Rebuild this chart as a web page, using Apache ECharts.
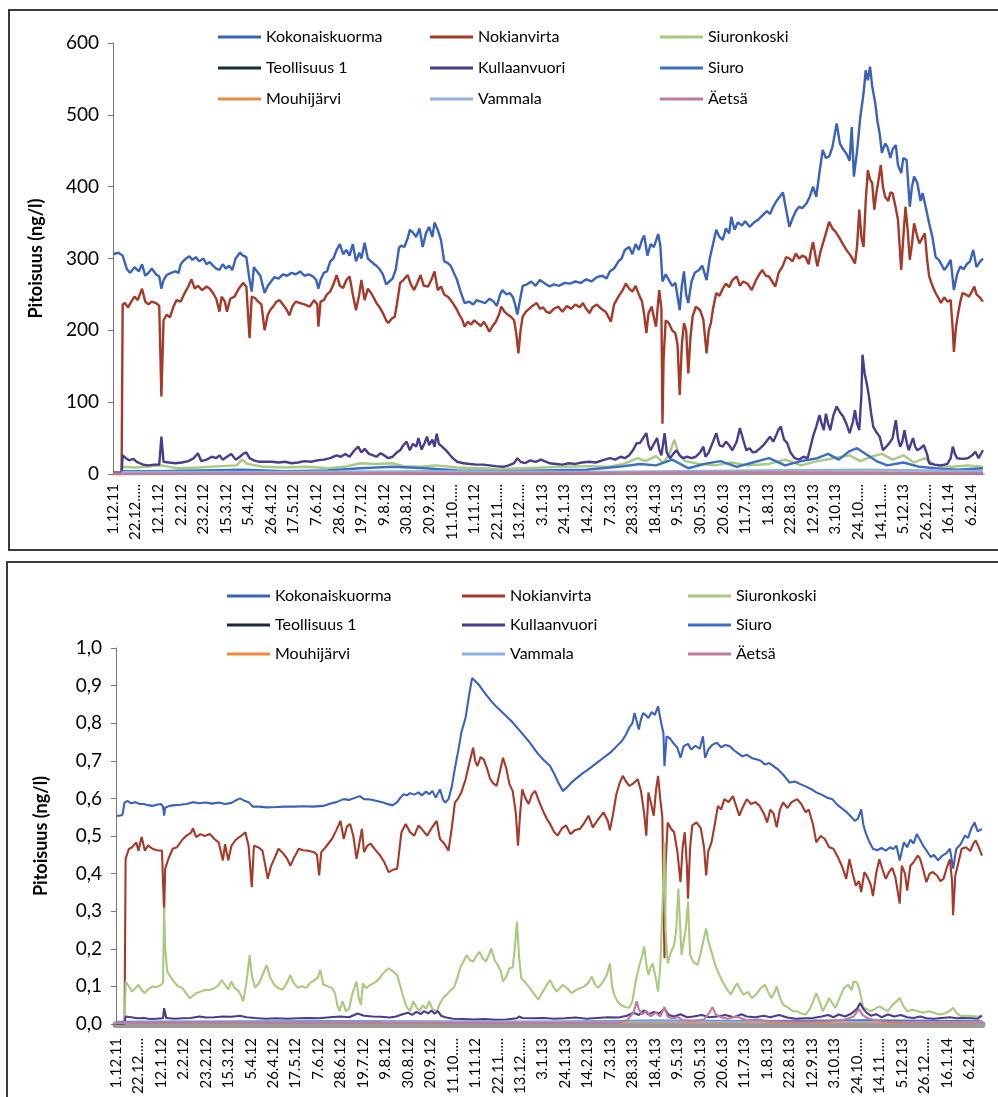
<!DOCTYPE html>
<html>
<head>
<meta charset="utf-8">
<script src="https://cdn.jsdelivr.net/npm/echarts@6/dist/echarts.min.js"></script>
<style>
  html, body { margin: 0; padding: 0; background: #fff; }
  #chart { width: 998px; height: 1097px; }
</style>
</head>
<body>
<div id="chart"></div>
<script>
// Day 0 = 1.12.2011; one tick label every 21 days.
const tickLabels = ['1.12.11','22.12.....','12.1.12','2.2.12','23.2.12','15.3.12','5.4.12','26.4.12','17.5.12','7.6.12',
  '28.6.12','19.7.12','9.8.12','30.8.12','20.9.12','11.10.....','1.11.12','22.11.....','13.12.....','3.1.13',
  '24.1.13','14.2.13','7.3.13','28.3.13','18.4.13','9.5.13','30.5.13','20.6.13','11.7.13','1.8.13',
  '22.8.13','12.9.13','3.10.13','24.10.....','14.11.....','5.12.13','26.12.....','16.1.14','6.2.14'];

const seriesNames = ['Kokonaiskuorma','Nokianvirta','Siuronkoski','Teollisuus 1','Kullaanvuori','Siuro','Mouhijärvi','Vammala','Äetsä'];

// ---- upper panel, ng/l : [day, value]
const kokonaisTop = [[0,306],[5,308],[9,304],[13,285],[16,280],[20,288],[24,282],[27,292],[30,276],[33,280],[36,286],[40,278],[43,275],[45,258],[47,270],[50,277],[54,280],[58,282],[61,280],[63,292],[65,296],[68,300],[71,303],[74,298],[77,302],[80,296],[84,300],[87,292],[90,295],[93,290],[96,286],[99,284],[102,292],[105,286],[108,290],[111,284],[114,300],[118,308],[121,304],[124,302],[127,270],[129,254],[131,288],[134,282],[137,276],[141,252],[144,262],[147,268],[150,274],[154,272],[158,278],[162,276],[166,280],[170,278],[174,282],[178,276],[182,278],[186,275],[189,270],[191,258],[193,270],[196,280],[199,282],[202,296],[205,300],[208,312],[211,320],[214,306],[217,312],[220,304],[223,320],[226,296],[229,308],[231,300],[234,322],[237,300],[240,296],[243,292],[245,290],[248,285],[251,278],[254,264],[257,268],[260,272],[263,285],[266,315],[268,318],[271,316],[274,328],[276,340],[279,336],[282,330],[285,342],[288,316],[291,335],[294,344],[297,330],[299,350],[302,340],[305,326],[308,296],[311,294],[314,290],[317,280],[320,270],[323,255],[327,238],[331,240],[335,236],[338,242],[342,240],[346,238],[350,244],[354,240],[357,234],[360,250],[362,256],[366,250],[369,252],[372,246],[374,236],[376,222],[378,238],[381,262],[385,264],[389,268],[393,262],[397,270],[401,266],[406,261],[410,264],[415,262],[420,266],[425,265],[430,268],[435,266],[440,271],[445,268],[450,274],[455,276],[459,272],[462,282],[466,286],[470,296],[473,300],[476,312],[480,316],[483,306],[486,320],[489,312],[492,326],[494,332],[497,304],[500,320],[503,316],[507,334],[509,318],[511,268],[514,278],[517,270],[520,262],[523,266],[527,228],[529,262],[531,282],[533,250],[535,238],[538,268],[541,280],[545,284],[548,290],[552,270],[555,300],[558,320],[561,340],[564,330],[567,326],[570,342],[573,335],[575,358],[578,340],[581,350],[585,346],[588,352],[592,344],[596,350],[600,354],[604,360],[608,366],[611,362],[614,372],[617,380],[620,386],[623,392],[626,368],[629,344],[632,356],[635,366],[638,372],[641,370],[645,377],[648,386],[651,400],[654,386],[657,420],[660,451],[663,440],[666,442],[669,455],[673,488],[676,460],[679,452],[682,446],[685,436],[687,483],[689,414],[692,450],[695,497],[698,530],[700,562],[702,548],[704,567],[706,540],[709,515],[711,490],[713,474],[715,447],[718,460],[720,456],[723,440],[725,452],[728,458],[730,430],[733,419],[735,440],[738,437],[741,372],[743,400],[745,414],[748,405],[751,380],[753,391],[756,370],[759,349],[762,330],[765,302],[768,298],[771,290],[773,284],[776,290],[779,298],[782,256],[785,278],[788,289],[791,285],[794,292],[797,296],[800,312],[803,288],[806,295],[809,300]];

const nokiaTop = [[0,2],[8,2],[9,236],[11,238],[14,232],[17,240],[20,247],[23,242],[27,258],[30,240],[33,236],[36,240],[40,238],[43,234],[45,108],[47,214],[50,222],[53,218],[56,232],[59,242],[63,240],[66,250],[70,261],[73,271],[76,258],[79,262],[83,256],[87,261],[90,258],[93,252],[96,244],[99,226],[101,247],[104,240],[106,226],[109,244],[113,247],[117,258],[121,266],[124,261],[127,189],[129,247],[132,245],[135,240],[138,236],[141,200],[144,222],[147,230],[149,233],[152,240],[155,242],[158,236],[161,230],[164,221],[167,234],[170,240],[174,238],[178,236],[183,233],[187,242],[190,236],[191,205],[193,240],[196,242],[199,250],[202,254],[205,264],[208,277],[211,262],[214,259],[217,270],[220,275],[223,250],[226,228],[229,250],[231,270],[234,242],[237,258],[240,252],[243,244],[245,238],[248,232],[251,224],[254,214],[256,210],[259,216],[262,219],[264,236],[267,266],[270,270],[274,277],[277,264],[280,256],[283,266],[286,277],[289,262],[293,261],[296,270],[299,282],[302,256],[305,261],[308,250],[312,246],[316,238],[319,231],[322,222],[325,214],[327,205],[330,212],[333,208],[336,214],[339,210],[342,206],[345,212],[348,204],[350,198],[353,206],[356,212],[359,222],[361,233],[364,226],[367,222],[370,219],[373,214],[375,196],[377,168],[379,200],[381,219],[384,226],[387,230],[390,234],[394,238],[397,230],[400,232],[403,226],[406,224],[410,230],[414,233],[418,226],[422,234],[426,230],[430,236],[434,232],[437,238],[440,230],[443,224],[446,232],[450,236],[454,230],[458,226],[461,218],[463,212],[466,236],[470,247],[474,256],[477,265],[480,258],[483,254],[486,262],[489,250],[492,240],[494,222],[496,196],[498,224],[501,233],[503,218],[505,205],[507,240],[508,256],[510,230],[511,70],[512,160],[514,214],[517,210],[520,200],[523,196],[525,180],[527,110],[529,180],[531,210],[533,200],[535,140],[537,190],[539,219],[542,233],[546,228],[549,215],[552,168],[554,200],[556,210],[558,230],[561,252],[564,248],[567,258],[570,265],[573,260],[576,270],[580,275],[583,262],[586,268],[590,265],[594,256],[598,270],[601,278],[604,284],[607,276],[610,275],[613,268],[616,261],[619,280],[623,290],[626,302],[629,300],[632,296],[635,307],[638,300],[641,304],[644,302],[647,292],[649,310],[651,323],[653,306],[655,289],[658,310],[662,330],[666,351],[669,342],[672,337],[675,330],[678,322],[682,312],[686,304],[690,293],[692,318],[694,368],[696,330],[698,316],[700,380],[702,423],[704,410],[706,405],[708,368],[710,392],[712,410],[714,430],[716,400],[718,386],[721,380],[723,392],[725,391],[728,370],[730,354],[733,284],[735,330],[737,372],[739,340],[741,298],[743,320],[745,349],[748,330],[750,321],[753,330],[755,335],[757,300],[759,275],[762,262],[765,252],[768,244],[770,238],[773,246],[776,240],[779,242],[781,200],[782,170],[784,205],[786,224],[788,240],[790,252],[793,250],[796,247],[799,255],[801,261],[803,250],[806,246],[809,240]];

const siuronkoskiTop = [[0,0],[8,0],[9,10],[20,9],[30,10],[45,12],[60,8],[80,9],[100,11],[115,12],[120,20],[125,14],[140,10],[160,9],[180,10],[200,8],[215,10],[230,15],[245,14],[260,15],[270,11],[285,10],[300,12],[320,9],[340,8],[360,7],[380,8],[400,9],[420,10],[440,11],[460,10],[475,14],[488,22],[495,18],[505,25],[512,15],[518,30],[522,48],[526,28],[532,18],[545,14],[560,12],[575,16],[590,12],[610,14],[625,20],[640,12],[655,18],[670,22],[685,26],[695,18],[705,24],[715,28],[725,20],[735,26],[745,16],[755,22],[765,12],[780,10],[795,12],[809,10]];

const teollisuusTop = [[0,0],[8,0],[9,1],[200,1],[400,1],[600,1.5],[809,1]];

const kullaanvuoriTop = [[0,1],[8,1],[9,26],[12,22],[15,19],[19,21],[22,17],[25,15],[28,13],[33,12],[38,13],[43,13],[45,52],[47,17],[52,16],[58,15],[64,16],[70,18],[75,22],[79,29],[82,18],[87,20],[92,24],[96,22],[99,26],[102,20],[106,24],[110,28],[114,20],[118,24],[121,28],[124,30],[127,22],[131,19],[136,17],[142,17],[148,17],[154,16],[160,17],[166,15],[172,16],[178,18],[184,17],[190,19],[196,20],[202,22],[208,26],[212,24],[216,28],[220,24],[224,32],[228,38],[231,30],[234,35],[238,28],[242,26],[245,24],[249,29],[252,26],[256,22],[260,24],[264,30],[267,33],[270,40],[273,45],[276,33],[279,42],[282,38],[284,50],[287,34],[290,44],[292,52],[294,40],[297,48],[299,38],[301,56],[303,42],[306,38],[309,34],[312,29],[316,22],[320,17],[326,15],[332,14],[338,13],[344,13],[350,12],[356,11],[363,10],[368,12],[373,15],[376,22],[379,17],[383,15],[388,19],[393,17],[398,20],[403,17],[406,15],[412,14],[418,13],[424,15],[430,14],[436,16],[443,17],[449,16],[455,19],[462,22],[467,20],[472,24],[476,22],[480,26],[484,34],[487,43],[490,43],[493,50],[496,57],[498,40],[500,33],[503,42],[506,50],[508,34],[510,26],[513,57],[515,30],[518,22],[521,28],[524,33],[527,26],[530,22],[534,24],[538,22],[542,24],[546,30],[549,38],[551,24],[554,30],[558,45],[561,57],[564,40],[567,38],[570,45],[573,40],[576,33],[580,45],[583,64],[586,48],[589,33],[592,36],[595,30],[598,31],[602,36],[606,42],[609,48],[611,52],[614,45],[617,55],[619,62],[621,66],[624,48],[627,43],[630,30],[634,22],[638,20],[642,24],[646,22],[649,40],[651,52],[654,66],[657,82],[659,70],[661,61],[663,84],[665,70],[667,61],[670,82],[673,94],[676,86],[679,80],[682,70],[685,57],[688,72],[690,89],[692,70],[694,61],[696,110],[697,166],[699,140],[701,126],[703,108],[705,85],[707,66],[710,58],[713,52],[716,33],[719,38],[722,43],[725,50],[728,75],[730,50],[732,38],[734,45],[736,61],[738,45],[740,33],[742,42],[744,50],[746,38],[748,33],[751,36],[754,40],[757,28],[759,15],[764,13],[770,12],[776,14],[779,22],[781,38],[783,28],[785,22],[790,21],[795,22],[799,26],[802,31],[805,22],[809,33]];

const siuroTop = [[0,0],[8,0],[9,4],[40,4],[80,5],[120,6],[160,4],[200,5],[230,8],[260,10],[290,8],[320,5],[360,4],[400,5],[440,6],[470,10],[490,14],[505,12],[520,20],[535,8],[550,14],[565,18],[580,10],[595,16],[610,22],[625,12],[640,18],[655,22],[665,28],[675,20],[685,32],[692,36],[700,28],[710,18],[720,12],[735,16],[750,10],[765,8],[785,6],[809,8]];

const mouhijarviTop = [[0,0],[8,0],[9,1.5],[300,1.5],[500,2],[809,1.5]];
const vammalaTop = [[0,0],[8,0],[9,3],[150,3],[300,4],[450,3],[600,5],[700,6],[809,4]];
const aetsaTop = [[0,0],[8,0],[9,1],[400,1],[600,2],[809,1]];

// ---- lower panel, ng/l : [day, value]
const kokonaisBot = [[0,0.554],[3,0.554],[6,0.556],[8,0.589],[11,0.593],[14,0.587],[18,0.590],[22,0.585],[26,0.585],[30,0.582],[34,0.580],[38,0.583],[42,0.585],[44,0.578],[45,0.554],[46,0.575],[50,0.580],[55,0.582],[60,0.583],[66,0.585],[72,0.590],[78,0.587],[84,0.589],[90,0.586],[96,0.589],[102,0.585],[108,0.588],[113,0.596],[116,0.600],[120,0.594],[124,0.590],[128,0.578],[134,0.578],[141,0.576],[150,0.577],[158,0.578],[166,0.578],[175,0.579],[184,0.578],[194,0.580],[200,0.586],[206,0.590],[213,0.598],[218,0.596],[224,0.602],[228,0.606],[232,0.598],[238,0.597],[244,0.593],[250,0.589],[255,0.584],[259,0.582],[263,0.590],[266,0.602],[269,0.611],[272,0.608],[275,0.614],[279,0.610],[283,0.616],[286,0.608],[290,0.618],[293,0.611],[296,0.620],[299,0.602],[303,0.624],[306,0.596],[308,0.589],[311,0.598],[314,0.630],[317,0.680],[320,0.725],[323,0.775],[327,0.815],[330,0.870],[333,0.920],[336,0.912],[340,0.900],[345,0.880],[350,0.862],[355,0.846],[362,0.827],[370,0.805],[378,0.779],[386,0.752],[394,0.721],[400,0.702],[406,0.686],[410,0.665],[414,0.640],[418,0.620],[422,0.630],[426,0.642],[430,0.652],[437,0.668],[444,0.682],[450,0.695],[456,0.708],[462,0.721],[467,0.735],[473,0.752],[477,0.770],[480,0.788],[483,0.800],[485,0.827],[487,0.806],[489,0.783],[491,0.810],[493,0.827],[496,0.820],[498,0.814],[501,0.830],[504,0.822],[507,0.845],[510,0.800],[512,0.774],[513,0.686],[515,0.765],[518,0.760],[521,0.748],[525,0.735],[528,0.708],[531,0.739],[535,0.745],[538,0.730],[542,0.740],[546,0.732],[549,0.765],[551,0.708],[554,0.730],[558,0.743],[562,0.748],[566,0.736],[570,0.742],[574,0.739],[578,0.728],[582,0.720],[586,0.712],[590,0.716],[595,0.707],[599,0.704],[603,0.700],[607,0.690],[611,0.694],[615,0.686],[620,0.675],[625,0.660],[630,0.642],[635,0.645],[640,0.638],[645,0.632],[650,0.625],[655,0.616],[660,0.610],[665,0.602],[670,0.598],[675,0.582],[680,0.571],[684,0.562],[688,0.550],[691,0.540],[694,0.546],[697,0.571],[699,0.530],[701,0.510],[704,0.488],[708,0.466],[712,0.462],[716,0.468],[720,0.461],[724,0.470],[727,0.465],[730,0.474],[733,0.435],[735,0.460],[737,0.483],[740,0.470],[743,0.490],[746,0.480],[749,0.505],[752,0.490],[755,0.474],[758,0.462],[762,0.444],[765,0.450],[769,0.435],[773,0.448],[777,0.455],[780,0.466],[783,0.413],[786,0.466],[790,0.478],[794,0.501],[797,0.495],[800,0.520],[803,0.536],[806,0.512],[810,0.519]];

const nokiaBot = [[0,0.005],[8,0.005],[9,0.44],[12,0.465],[15,0.47],[19,0.483],[21,0.461],[24,0.497],[27,0.461],[30,0.475],[34,0.466],[38,0.462],[43,0.461],[45,0.298],[46,0.413],[49,0.439],[53,0.466],[57,0.47],[62,0.49],[66,0.501],[70,0.508],[72,0.520],[75,0.497],[79,0.505],[83,0.500],[88,0.505],[92,0.492],[96,0.483],[100,0.435],[102,0.478],[105,0.435],[108,0.474],[112,0.49],[117,0.500],[121,0.510],[124,0.474],[127,0.364],[129,0.474],[133,0.470],[137,0.461],[142,0.386],[145,0.420],[148,0.439],[152,0.466],[156,0.455],[160,0.440],[163,0.421],[167,0.445],[171,0.466],[175,0.462],[180,0.461],[185,0.457],[188,0.450],[190,0.395],[192,0.457],[196,0.470],[202,0.492],[206,0.515],[210,0.540],[213,0.492],[216,0.525],[219,0.532],[222,0.500],[225,0.439],[227,0.470],[230,0.519],[232,0.457],[235,0.474],[238,0.480],[242,0.465],[247,0.448],[251,0.430],[255,0.404],[259,0.410],[263,0.413],[267,0.510],[271,0.532],[275,0.510],[279,0.501],[283,0.528],[287,0.515],[291,0.501],[295,0.520],[300,0.540],[303,0.492],[307,0.480],[311,0.461],[314,0.520],[317,0.589],[320,0.600],[323,0.616],[327,0.651],[331,0.700],[334,0.735],[336,0.700],[338,0.686],[341,0.710],[344,0.704],[347,0.680],[350,0.651],[353,0.640],[356,0.633],[359,0.670],[362,0.708],[365,0.680],[368,0.638],[371,0.620],[374,0.560],[376,0.474],[378,0.560],[380,0.624],[383,0.600],[386,0.585],[389,0.610],[392,0.620],[396,0.590],[400,0.563],[403,0.545],[406,0.532],[410,0.510],[413,0.501],[417,0.520],[421,0.528],[425,0.505],[429,0.515],[434,0.519],[438,0.535],[442,0.554],[446,0.523],[450,0.540],[456,0.563],[460,0.540],[462,0.515],[465,0.560],[468,0.611],[471,0.640],[474,0.660],[477,0.645],[480,0.633],[484,0.640],[488,0.651],[491,0.620],[494,0.560],[496,0.501],[498,0.616],[501,0.580],[503,0.554],[505,0.620],[507,0.660],[509,0.600],[511,0.550],[512,0.350],[513,0.175],[514,0.420],[516,0.536],[519,0.520],[522,0.510],[525,0.460],[528,0.377],[530,0.470],[532,0.510],[534,0.420],[535,0.333],[537,0.470],[539,0.528],[543,0.536],[547,0.520],[550,0.470],[552,0.395],[554,0.460],[557,0.483],[560,0.530],[563,0.580],[566,0.570],[569,0.598],[573,0.590],[577,0.606],[580,0.580],[583,0.554],[586,0.575],[590,0.598],[594,0.585],[598,0.590],[602,0.580],[606,0.560],[609,0.536],[612,0.570],[615,0.560],[618,0.523],[621,0.570],[624,0.589],[628,0.575],[632,0.590],[637,0.598],[641,0.585],[645,0.563],[648,0.570],[652,0.530],[655,0.483],[659,0.500],[663,0.492],[667,0.470],[671,0.466],[675,0.445],[679,0.420],[683,0.386],[686,0.438],[689,0.400],[692,0.368],[695,0.380],[697,0.351],[700,0.404],[703,0.390],[706,0.370],[708,0.340],[711,0.400],[714,0.438],[717,0.410],[720,0.386],[723,0.404],[726,0.415],[729,0.390],[733,0.320],[735,0.421],[738,0.400],[740,0.355],[743,0.421],[746,0.430],[750,0.448],[752,0.440],[755,0.410],[758,0.377],[761,0.400],[764,0.404],[768,0.395],[771,0.380],[774,0.386],[777,0.415],[780,0.438],[782,0.380],[783,0.289],[785,0.395],[788,0.430],[791,0.466],[795,0.470],[799,0.460],[802,0.480],[804,0.488],[807,0.470],[810,0.448]];

const siuronkoskiBot = [[0,0],[8,0],[9,0.113],[12,0.100],[15,0.086],[18,0.095],[21,0.104],[24,0.090],[27,0.082],[30,0.092],[34,0.100],[38,0.098],[42,0.104],[44,0.110],[45,0.310],[46,0.200],[48,0.139],[51,0.125],[54,0.113],[58,0.100],[62,0.096],[66,0.080],[69,0.069],[72,0.075],[75,0.082],[79,0.086],[84,0.091],[88,0.090],[92,0.095],[96,0.104],[99,0.117],[102,0.104],[105,0.092],[108,0.113],[111,0.095],[114,0.090],[117,0.075],[119,0.060],[122,0.110],[125,0.183],[127,0.130],[130,0.096],[134,0.110],[137,0.130],[141,0.157],[144,0.125],[148,0.104],[152,0.095],[156,0.091],[160,0.110],[163,0.130],[166,0.110],[170,0.096],[174,0.100],[178,0.096],[182,0.110],[186,0.117],[189,0.125],[191,0.144],[194,0.104],[198,0.100],[202,0.096],[205,0.080],[207,0.050],[209,0.034],[212,0.060],[215,0.034],[218,0.040],[221,0.080],[225,0.113],[227,0.070],[229,0.051],[231,0.108],[234,0.095],[238,0.104],[242,0.110],[246,0.120],[250,0.135],[255,0.148],[259,0.140],[263,0.130],[266,0.100],[269,0.069],[272,0.045],[275,0.034],[278,0.060],[281,0.045],[284,0.034],[287,0.050],[290,0.040],[293,0.060],[296,0.040],[300,0.034],[303,0.055],[306,0.069],[310,0.080],[313,0.090],[316,0.096],[319,0.120],[322,0.150],[325,0.166],[328,0.183],[331,0.170],[334,0.166],[337,0.180],[340,0.192],[343,0.175],[346,0.166],[349,0.185],[351,0.201],[354,0.170],[357,0.157],[360,0.140],[362,0.113],[365,0.125],[368,0.148],[371,0.150],[373,0.200],[375,0.272],[377,0.180],[379,0.122],[383,0.110],[387,0.096],[391,0.080],[395,0.065],[399,0.085],[403,0.104],[406,0.117],[409,0.100],[412,0.086],[415,0.095],[418,0.104],[422,0.095],[426,0.082],[430,0.090],[434,0.095],[438,0.100],[442,0.110],[445,0.126],[448,0.105],[451,0.096],[455,0.110],[459,0.130],[462,0.161],[464,0.100],[466,0.078],[469,0.060],[472,0.051],[476,0.045],[480,0.043],[483,0.060],[486,0.113],[489,0.150],[492,0.180],[494,0.206],[496,0.160],[498,0.130],[500,0.150],[502,0.161],[505,0.120],[507,0.086],[509,0.150],[511,0.300],[513,0.483],[514,0.250],[516,0.161],[519,0.190],[522,0.210],[524,0.250],[526,0.360],[528,0.240],[529,0.183],[531,0.220],[533,0.254],[535,0.325],[537,0.183],[540,0.165],[544,0.157],[547,0.190],[550,0.230],[552,0.254],[554,0.220],[557,0.192],[560,0.160],[563,0.139],[566,0.120],[569,0.104],[572,0.090],[575,0.078],[578,0.095],[581,0.108],[584,0.090],[587,0.078],[591,0.085],[595,0.069],[599,0.080],[603,0.095],[607,0.104],[610,0.085],[613,0.069],[616,0.085],[618,0.100],[621,0.070],[624,0.051],[628,0.045],[633,0.034],[637,0.034],[641,0.028],[645,0.025],[649,0.040],[652,0.060],[655,0.082],[658,0.060],[661,0.034],[664,0.050],[667,0.069],[670,0.055],[673,0.043],[677,0.070],[681,0.096],[685,0.104],[688,0.090],[690,0.113],[693,0.110],[695,0.096],[697,0.070],[699,0.043],[702,0.040],[706,0.034],[710,0.040],[714,0.047],[718,0.040],[722,0.034],[726,0.050],[730,0.060],[733,0.069],[736,0.050],[740,0.034],[745,0.038],[750,0.034],[755,0.030],[760,0.034],[765,0.030],[770,0.025],[775,0.028],[780,0.035],[783,0.043],[786,0.030],[790,0.021],[795,0.022],[800,0.021],[805,0.020],[810,0.021]];

const teollisuusBot = [[0,0.003],[100,0.004],[200,0.003],[300,0.004],[400,0.003],[480,0.006],[520,0.008],[560,0.005],[620,0.006],[700,0.005],[810,0.003]];

const kullaanvuoriBot = [[0,0],[8,0],[9,0.02],[14,0.018],[20,0.015],[26,0.016],[32,0.013],[38,0.014],[44,0.015],[45,0.042],[47,0.016],[55,0.014],[62,0.015],[70,0.016],[78,0.020],[84,0.017],[92,0.018],[100,0.020],[108,0.019],[116,0.022],[122,0.018],[130,0.016],[140,0.014],[150,0.015],[160,0.014],[170,0.015],[180,0.016],[190,0.015],[200,0.018],[210,0.020],[218,0.018],[226,0.028],[232,0.022],[240,0.020],[248,0.019],[256,0.017],[262,0.020],[268,0.026],[273,0.030],[277,0.024],[281,0.032],[285,0.026],[288,0.034],[292,0.028],[295,0.036],[298,0.027],[301,0.034],[304,0.022],[308,0.018],[315,0.014],[325,0.013],[335,0.012],[345,0.013],[355,0.011],[365,0.012],[375,0.015],[377,0.020],[380,0.016],[390,0.015],[400,0.016],[410,0.014],[420,0.015],[430,0.017],[440,0.014],[450,0.016],[460,0.018],[470,0.017],[478,0.022],[484,0.030],[489,0.024],[494,0.036],[498,0.025],[503,0.032],[508,0.028],[513,0.040],[517,0.024],[522,0.020],[528,0.026],[534,0.018],[540,0.020],[548,0.024],[555,0.018],[562,0.020],[570,0.024],[578,0.018],[585,0.026],[590,0.020],[598,0.018],[606,0.022],[612,0.018],[620,0.024],[628,0.017],[636,0.014],[644,0.015],[652,0.016],[660,0.020],[666,0.024],[671,0.018],[676,0.025],[682,0.020],[688,0.028],[693,0.040],[696,0.056],[699,0.040],[702,0.030],[706,0.022],[711,0.026],[716,0.018],[722,0.025],[728,0.020],[734,0.024],[740,0.018],[746,0.016],[752,0.020],[758,0.015],[765,0.014],[772,0.016],[780,0.018],[786,0.015],[792,0.016],[800,0.015],[806,0.014],[810,0.022]];

const siuroBot = [[0,0.006],[200,0.007],[400,0.006],[500,0.009],[600,0.008],[700,0.010],[810,0.007]];
const mouhijarviBot = [[0,0.002],[300,0.002],[500,0.004],[700,0.003],[810,0.002]];
const vammalaBot = [[0,0.004],[250,0.005],[500,0.007],[650,0.006],[810,0.005]];
const aetsaBot = [[0,0.003],[470,0.003],[478,0.010],[484,0.030],[487,0.060],[489,0.040],[492,0.025],[496,0.035],[500,0.020],[505,0.030],[509,0.020],[513,0.045],[516,0.020],[520,0.015],[526,0.018],[530,0.010],[540,0.008],[550,0.012],[555,0.030],[558,0.045],[561,0.025],[566,0.018],[572,0.014],[580,0.020],[590,0.010],[600,0.012],[610,0.008],[620,0.006],[640,0.005],[660,0.006],[680,0.010],[690,0.020],[695,0.040],[698,0.025],[703,0.015],[710,0.010],[720,0.006],[740,0.004],[780,0.004],[810,0.004]];

const topData = [kokonaisTop, nokiaTop, siuronkoskiTop, teollisuusTop, kullaanvuoriTop, siuroTop, mouhijarviTop, vammalaTop, aetsaTop];
const botData = [kokonaisBot, nokiaBot, siuronkoskiBot, teollisuusBot, kullaanvuoriBot, siuroBot, mouhijarviBot, vammalaBot, aetsaBot];

const colors = ['#3a62bb','#a5392a','#a9c97f','#1b2b3b','#4b3b8f','#3b6fc0','#ee8a3c','#8fb0e0','#c07a9a'];

const FONT = 'Lato, "Open Sans", sans-serif';

function xAxisFor(gridIndex, margin) {
  return {
    type: 'value', gridIndex, min: 0, max: 810, interval: 21,
    splitLine: { show: false },
    axisTick: { show: false },
    axisLine: { show: true, lineStyle: gridIndex === 0 ? { color: '#c8b8a8', width: 2 } : { color: '#9c9c9c', width: 7 } },
    axisLabel: {
      rotate: 90, margin, fontSize: 15, color: '#000', fontFamily: FONT,
      formatter: v => (v % 21 === 0 && v / 21 < tickLabels.length) ? tickLabels[v / 21] : ''
    }
  };
}

function yAxisFor(gridIndex, max, interval, gap, fmt) {
  return {
    type: 'value', gridIndex, min: 0, max, interval,
    name: 'Pitoisuus (ng/l)', nameLocation: 'middle', nameGap: gap,
    nameTextStyle: { fontWeight: 'bold', fontSize: 18, color: '#000', fontFamily: FONT },
    splitLine: { show: false },
    axisLine: { show: true, lineStyle: { color: '#777', width: 1 } },
    axisTick: { show: true, length: 5, lineStyle: { color: '#777' } },
    axisLabel: { margin: 14, fontSize: 19, color: '#000', fontFamily: FONT, formatter: fmt }
  };
}

function buildSeries(dataSets, axisIndex, width) {
  return dataSets.map((d, i) => ({
    name: seriesNames[i], type: 'line', xAxisIndex: axisIndex, yAxisIndex: axisIndex,
    data: d, showSymbol: false, symbol: 'none',
    lineStyle: { color: colors[i], width }, itemStyle: { color: colors[i] },
    z: 2 + i
  }));
}

// legend: three columns x three rows in each panel
const legendCols = [[218, 430, 660], [227, 462, 688]];
const legendRows = [[38, 69, 100], [597, 626, 655]];
const legends = [];
for (let p = 0; p < 2; p++) {
  seriesNames.forEach((n, i) => {
    legends.push({
      left: legendCols[p][i % 3], top: legendRows[p][Math.floor(i / 3)] - 9,
      data: [n], icon: 'rect', itemWidth: 43, itemHeight: 3, padding: 0, itemGap: 0,
      selectedMode: false,
      textStyle: { fontSize: 16, color: '#000', fontFamily: FONT, padding: [0, 0, 0, 0] }
    });
  });
}

const chart = echarts.init(document.getElementById('chart'), null, { renderer: 'canvas' });
chart.setOption({
  backgroundColor: '#fff',
  animation: false,
  color: colors,
  legend: legends,
  grid: [
    { left: 113, right: 14, top: 43, height: 431 },
    { left: 116, right: 16, top: 648, height: 378 }
  ],
  xAxis: [xAxisFor(0, 10), xAxisFor(1, 14)],
  yAxis: [
    yAxisFor(0, 600, 100, 68, v => String(v)),
    yAxisFor(1, 1, 0.1, 66, v => v.toFixed(1).replace('.', ','))
  ],
  series: buildSeries(topData, 0, 2.4).concat(buildSeries(botData, 1, 2.1)),
  graphic: [
    { type: 'rect', silent: true, z: 100, shape: { x: 9, y: 10, width: 1000, height: 540 },
      style: { fill: 'none', stroke: '#3a3a3a', lineWidth: 2 } },
    { type: 'rect', silent: true, z: 100, shape: { x: 7, y: 562, width: 1000, height: 600 },
      style: { fill: 'none', stroke: '#3a3a3a', lineWidth: 2 } }
  ]
});
</script>
</body>
</html>
